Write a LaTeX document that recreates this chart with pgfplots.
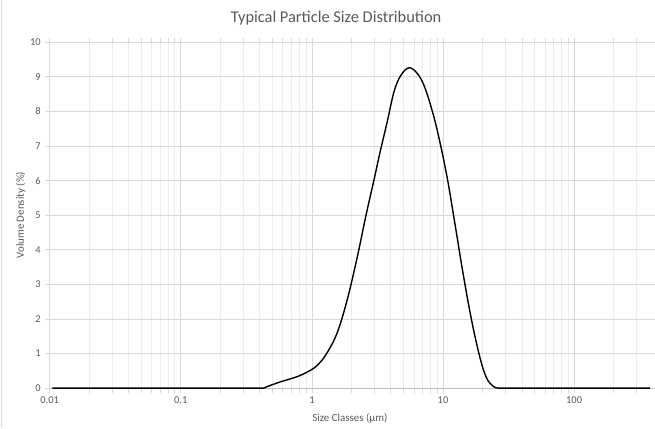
\documentclass[border=0pt]{standalone}
\usepackage{pgfplots}
\pgfplotsset{compat=1.18}
\usepackage{fontspec}
\setmainfont{Carlito}
\definecolor{txt}{HTML}{595959}
\definecolor{gmaj}{HTML}{D9D9D9}
\definecolor{gmin}{HTML}{EDEDED}
\begin{document}
\begin{tikzpicture}
\begin{axis}[
  scale only axis,
  width=604pt, height=348pt,
  xmode=log, log basis x=10,
  xmin=0.01, xmax=380,
  ymin=0, ymax=10,
  ytick={0,1,...,10},
  xtick={0.01,0.1,1,10,100},
  xticklabels={0.01,0.1,1,10,100},
  minor xtick={0.02,0.03,0.04,0.05,0.06,0.07,0.08,0.09,
               0.2,0.3,0.4,0.5,0.6,0.7,0.8,0.9,
               2,3,4,5,6,7,8,9,
               20,30,40,50,60,70,80,90,200,300},
  xmajorgrids, xminorgrids, ymajorgrids,
  major grid style={gmaj, line width=0.8pt},
  minor grid style={gmin, line width=0.8pt},
  axis line style={draw=none},
  tick align=outside,
  major tick length=4.5pt, minor tick length=4.5pt,
  tick style={gmaj, line width=0.8pt},
  /pgf/number format/assume math mode=true,
  ticklabel style={font=\fontsize{10.5}{12}\selectfont, text=txt},
  yticklabel style={xshift=-1pt},
  xticklabel style={yshift=-1pt},
  xlabel={Size Classes (µm)},
  ylabel={Volume Density (\%)},
  label style={font=\fontsize{11}{13}\selectfont, text=txt},
  xlabel style={at={([yshift=-30pt]axis description cs:0.5,0)}, anchor=center},
  ylabel style={at={([xshift=-29pt]axis description cs:0,0.5)}, anchor=center},
  clip=false,
]
\draw[gmaj!70!gray, line width=0.8pt] (rel axis cs:0,0) -- (rel axis cs:1,0);
\addplot[black, line width=1.4pt, smooth, tension=0.6] coordinates {
(0.0105,0) (0.2,0) (0.35,0) (0.43,0) (0.44,0.02) (0.5,0.1) (0.586,0.19)
(0.783,0.34) (0.99,0.53) (1.14,0.72) (1.32,1.05) (1.57,1.63) (1.87,2.59)
(2.23,3.83) (2.58,4.98) (2.98,6.03) (3.3,6.8) (3.76,7.71) (4.23,8.57)
(4.75,9.03) (5.5,9.26) (6.35,9.10) (7.14,8.76) (8.02,8.19) (9.1,7.4)
(10.7,6.13) (12.4,4.69)
(14.3,3.26) (16.6,1.92) (19.2,0.86) (21.5,0.29) (24.2,0.05) (26.5,0)
(32,0) (100,0) (380,0)
};
\node[font=\fontsize{16.5}{19}\selectfont, text=txt] at (rel axis cs:0.477,1) [yshift=24pt] {Typical Particle Size Distribution};
\coordinate (bl) at (rel axis cs:0,0);
\coordinate (tr) at (rel axis cs:1,1);
\end{axis}
\draw[gmaj, line width=0.8pt] ([shift={(-49pt,-40pt)}]bl) -- ([shift={(-49pt,42pt)}]bl|-tr);
\path ([shift={(-50pt,-40pt)}]bl) rectangle ([shift={(1pt,42pt)}]tr);
\end{tikzpicture}
\end{document}
